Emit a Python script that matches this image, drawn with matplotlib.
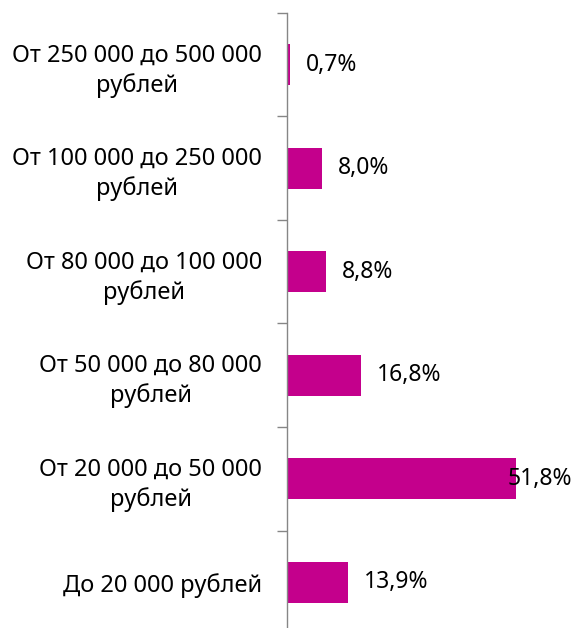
import matplotlib.pyplot as plt
import numpy as np

# income groups, top to bottom
categories = [
    "От 250 000 до 500 000\nрублей",
    "От 100 000 до 250 000\nрублей",
    "От 80 000 до 100 000\nрублей",
    "От 50 000 до 80 000\nрублей",
    "От 20 000 до 50 000\nрублей",
    "До 20 000 рублей",
]
shares = [0.7, 8.0, 8.8, 16.8, 51.8, 13.9]

plt.rcParams["font.family"] = ["Noto Sans", "DejaVu Sans"]

fig = plt.figure(figsize=(5.76, 6.28), dpi=100)
ax = fig.add_axes([0.4983, -0.0096, 0.46, 0.989])

y = np.arange(len(categories))
ax.barh(y, shares, height=0.4, color="#C4008C")
ax.set_ylim(len(categories) - 0.5, -0.5)
ax.set_xlim(0, 60)

for yi, v in zip(y, shares):
    x_txt = min(v + 3.6, 50.0)
    ax.text(x_txt, yi, f"{v:.1f}%".replace(".", ","), va="center", ha="left",
            fontsize=16.5, color="black")

ax.set_yticks(y)
labels = ax.set_yticklabels(categories, fontsize=17)
for lab in labels:
    lab.set_multialignment("center")
    lab.set_linespacing(1.3)
ax.tick_params(axis="y", which="major", length=0, pad=18)
ax.set_yticks(np.arange(len(categories) + 1) - 0.5, minor=True)
ax.tick_params(axis="y", which="minor", length=7.5, width=1, color="#868686")

ax.set_xticks([])
for side in ["top", "right", "bottom"]:
    ax.spines[side].set_visible(False)
ax.spines["left"].set_color("#868686")
ax.spines["left"].set_linewidth(1)

fig.savefig("out.png", dpi=100)
